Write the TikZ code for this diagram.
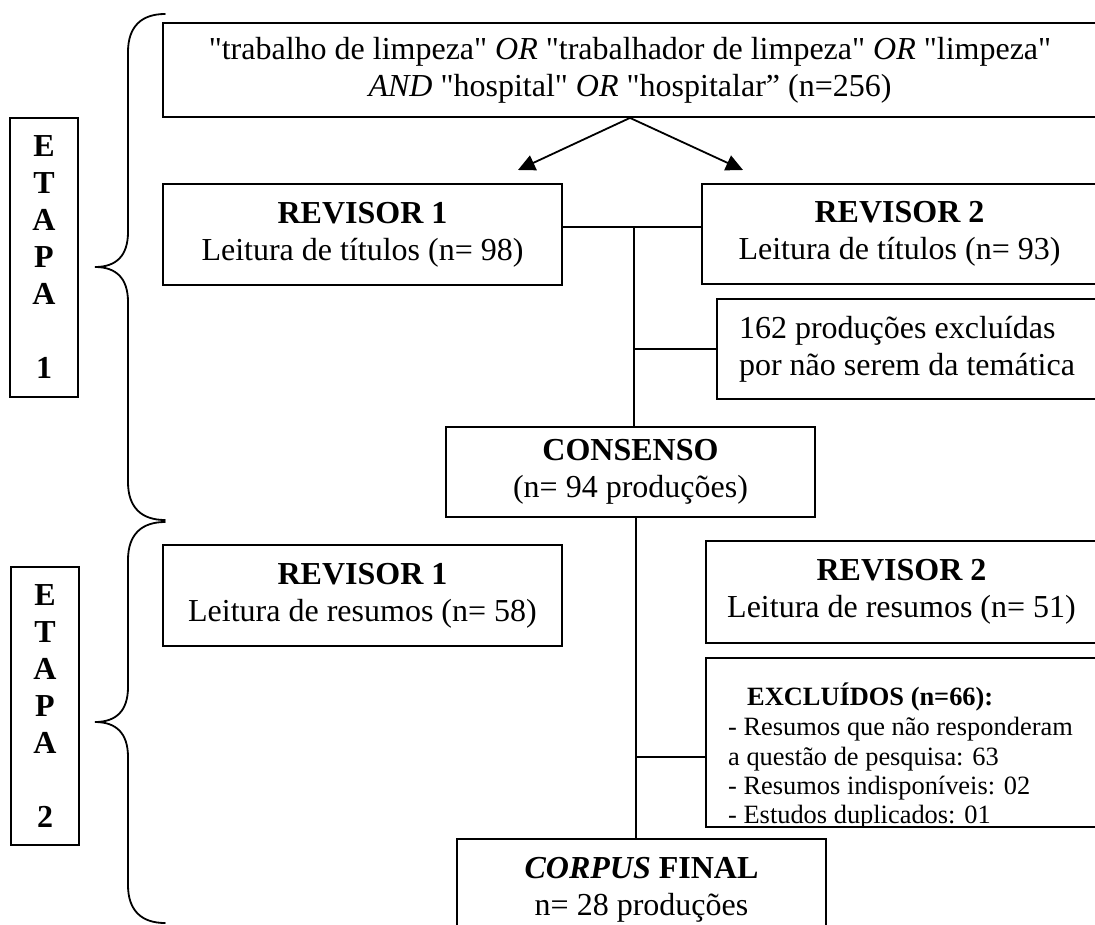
\documentclass[tikz,border=0pt]{standalone}
\usepackage{fontspec}
\setmainfont{Liberation Serif}[Ligatures=TeXOff]
\usetikzlibrary{arrows.meta}

\begin{document}
\begin{tikzpicture}[x=1pt,y=-1pt,
  box/.style={draw, rectangle, line width=1.8pt, inner sep=0pt, align=center,
    font=\fontsize{32}{37}\selectfont},
  stagebox/.style={box, font=\fontsize{32}{37}\selectfont\bfseries},
  smalltext/.style={inner sep=0pt, anchor=base west, font=\fontsize{26.4}{29.5}\selectfont},
  link/.style={line width=1.8pt},
  brace/.style={line width=1.8pt, line cap=round},
  arrowlink/.style={line width=1.8pt, -{Triangle[length=17pt,width=16pt]}}
]
\useasboundingbox (0,0) rectangle (1095,924);
\clip (0,0) rectangle (1095,924);

% search string
\node[box, minimum width=934, minimum height=94] (query) at (630,70)
  {"trabalho de limpeza" \textit{OR} "trabalhador de limpeza" \textit{OR} "limpeza"\\
   \textit{AND} "hospital" \textit{OR} "hospitalar” (n=256)};

% stage 1: title screening
\node[box, minimum width=399, minimum height=101] (rev1a) at (362.5,234.5)
  {\textbf{REVISOR 1}\\Leitura de títulos (n= 98)};
\node[box, minimum width=395, minimum height=100] (rev2a) at (899.5,234)
  {\textbf{REVISOR 2}\\Leitura de títulos (n= 93)};
\node[box, align=left, minimum width=380, minimum height=100] (excl1) at (907,349)
  {162 produções excluídas\\por não serem da temática};
\node[box, minimum width=369, minimum height=90] (consenso) at (630.5,472)
  {\textbf{CONSENSO}\\(n= 94 produções)};

% stage 2: abstract screening
\node[box, minimum width=399, minimum height=101] (rev1b) at (362.5,595.5)
  {\textbf{REVISOR 1}\\Leitura de resumos (n= 58)};
\node[box, minimum width=391, minimum height=102] (rev2b) at (901.5,592)
  {\textbf{REVISOR 2}\\Leitura de resumos (n= 51)};
\begin{scope}
  \clip (707,659) rectangle (1097,826);
  \node[smalltext] (ex0) at (747,705) {\textbf{EXCLUÍDOS (n=66):}};
  \node[smalltext] (ex1) at (728,735) {- Resumos que não responderam};
  \node[smalltext] (ex2) at (728,765) {a questão de pesquisa: 63};
  \node[smalltext] (ex3) at (728,794) {- Resumos indisponíveis: 02};
  \node[smalltext] (ex4) at (728,823) {- Estudos duplicados: 01};
\end{scope}
\node[box, minimum width=391, minimum height=169] (excl2) at (901.5,742.5) {};
\node[box, minimum width=369, minimum height=101] (corpus) at (641.5,889.5)
  {\textit{\textbf{CORPUS}} \textbf{FINAL}\\n= 28 produções};

% stage labels
\node[stagebox, minimum width=68, minimum height=279] (etapa1) at (44,257.5)
  {E\\T\\A\\P\\A\\[37pt]1};
\node[stagebox, minimum width=68, minimum height=278] (etapa2) at (45,706)
  {E\\T\\A\\P\\A\\[37pt]2};

% braces
\draw[brace] (165,14) .. controls (142,14) and (128,26) .. (128,52)
  -- (128,232) .. controls (128,256) and (116,267) .. (95,267)
  .. controls (116,267) and (128,278) .. (128,302)
  -- (128,482) .. controls (128,508) and (142,520) .. (165,520);
\draw[brace] (165,522) .. controls (142,522) and (128,534) .. (128,560)
  -- (128,687) .. controls (128,711) and (116,722) .. (95,722)
  .. controls (116,722) and (128,733) .. (128,757)
  -- (128,885) .. controls (128,911) and (142,923) .. (165,923);

% connectors
\coordinate (t1) at (518,170);
\coordinate (t2) at (743,170);
\draw[arrowlink] (query.south) -- (t1);
\draw[arrowlink] (query.south) -- (t2);

\coordinate (j1) at (634,227);
\draw[link] (rev1a.east |- j1) -- (rev2a.west |- j1);
\draw[link] (j1) -- (consenso.north -| j1);
\draw[link] (j1 |- excl1.west) -- (excl1.west);

\coordinate (j2) at (636,757);
\draw[link] (consenso.south -| j2) -- (corpus.north -| j2);
\draw[link] (j2) -- (excl2.west |- j2);
\end{tikzpicture}
\end{document}
